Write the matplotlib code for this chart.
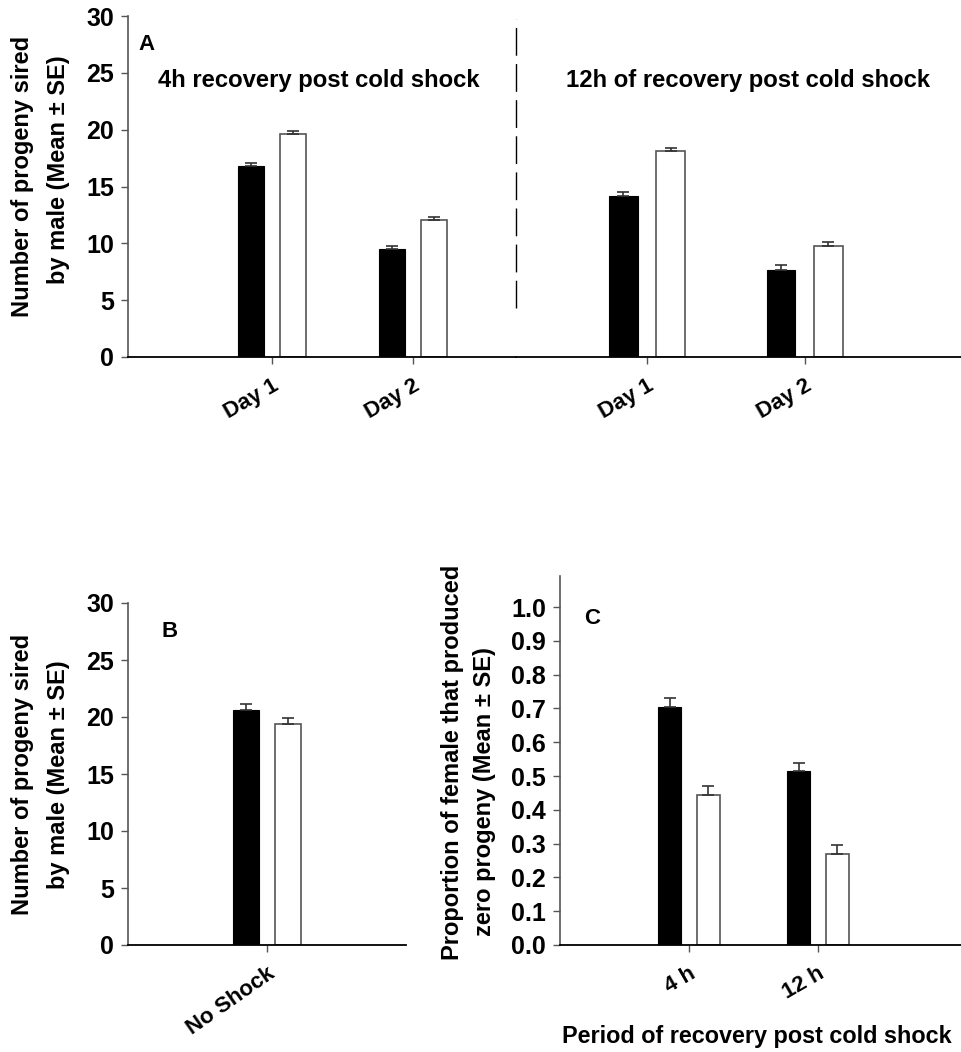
import matplotlib
matplotlib.use('Agg')
import matplotlib.pyplot as plt
import numpy as np

plt.rcParams['font.family'] = ['Liberation Sans', 'DejaVu Sans']
plt.rcParams['font.weight'] = 'bold'

# Panel A - 4h recovery (black = first group, white = second group)
a4_days = ['Day 1', 'Day 2']
a4_black = [16.8, 9.5]
a4_black_se = [0.3, 0.3]
a4_white = [19.6, 12.05]
a4_white_se = [0.25, 0.3]

# Panel A - 12h recovery
a12_days = ['Day 1', 'Day 2']
a12_black = [14.2, 7.65]
a12_black_se = [0.35, 0.45]
a12_white = [18.1, 9.75]
a12_white_se = [0.3, 0.35]

# Panel B - no shock
b_cats = ['No Shock']
b_black = [20.6]
b_black_se = [0.5]
b_white = [19.4]
b_white_se = [0.5]

# Panel C - proportion of females with zero progeny
c_cats = ['4 h', '12 h']
c_black = [0.704, 0.515]
c_black_se = [0.026, 0.024]
c_white = [0.444, 0.27]
c_white_se = [0.027, 0.026]

W, H = 961, 1052
fig = plt.figure(figsize=(W / 100, H / 100), dpi=100)


def px_axes(x0, x1, ytop, ybot):
    return fig.add_axes([x0 / W, 1 - ybot / H, (x1 - x0) / W, (ybot - ytop) / H])


def bars(ax, cats, black, black_se, white, white_se, width, rot):
    x = np.arange(1, len(cats) + 1)
    ekw = dict(ecolor='#333333', elinewidth=1.2, capsize=4, capthick=1.2)
    ax.bar(x - 0.15, black, width, color='black', edgecolor='black', linewidth=0.8,
           yerr=[np.zeros(len(cats)), black_se], error_kw=ekw, zorder=2)
    ax.bar(x + 0.15, white, width, color='white', edgecolor='#555555', linewidth=1.2,
           yerr=[np.zeros(len(cats)), white_se], error_kw=ekw, zorder=2)
    ax.set_xticks(x)
    ax.set_xticklabels(cats, rotation=rot, ha='right', rotation_mode='anchor',
                       fontsize=16, fontweight='bold')
    for s in ['top', 'right']:
        ax.spines[s].set_visible(False)
    ax.spines['bottom'].set_linewidth(1.3)
    ax.spines['left'].set_color('#555555')
    ax.spines['left'].set_linewidth(1.2)
    ax.tick_params(axis='x', length=5, width=1, color='#555555', pad=8)
    ax.tick_params(axis='y', length=5, width=1, color='#555555', labelsize=18, pad=5)
    for t in ax.get_yticklabels():
        t.set_fontweight('bold')


# Panel A, left part (4h)
axA1 = px_axes(128, 516, 16, 357)
bars(axA1, a4_days, a4_black, a4_black_se, a4_white, a4_white_se, 0.185, 30)
axA1.set_xlim(-0.02, 2.73)
axA1.set_ylim(0, 30)
axA1.set_yticks(range(0, 31, 5))
axA1.text(0.027, 0.9, 'A', transform=axA1.transAxes, fontsize=16, fontweight='bold')
axA1.text(0.077, 0.81, '4h recovery post cold shock', transform=axA1.transAxes,
          fontsize=17.2, fontweight='bold', va='center')

# Panel A, right part (12h)
axA2 = px_axes(516, 961, 16, 357)
bars(axA2, a12_days, a12_black, a12_black_se, a12_white, a12_white_se, 0.18, 30)
axA2.set_xlim(0.17, 2.99)
axA2.set_ylim(0, 30)
axA2.spines['left'].set_visible(False)
axA2.set_yticks([])
axA2.text(0.112, 0.81, '12h of recovery post cold shock', transform=axA2.transAxes,
          fontsize=17.2, fontweight='bold', va='center', ha='left')
# dashed separator
axA2.plot([0.17, 0.17], [4.3, 29.7], color='black', lw=1.0,
          linestyle=(0, (20, 6)), clip_on=False)

fig.text(23 / W, 1 - 176 / H, 'Number of progeny sired', rotation=90,
         ha='center', va='center', fontsize=17, fontweight='bold')
fig.text(58 / W, 1 - 170 / H, 'by male (Mean ± SE)', rotation=90,
         ha='center', va='center', fontsize=17, fontweight='bold')

# Panel B
axB = px_axes(128, 406, 603, 945)
bars(axB, b_cats, b_black, b_black_se, b_white, b_white_se, 0.187, 35)
axB.set_xlim(0, 2)
axB.set_ylim(0, 30)
axB.set_yticks(range(0, 31, 5))
axB.text(0.12, 0.9, 'B', transform=axB.transAxes, fontsize=16, fontweight='bold')
fig.text(23 / W, 1 - 774 / H, 'Number of progeny sired', rotation=90,
         ha='center', va='center', fontsize=17, fontweight='bold')
fig.text(58 / W, 1 - 775 / H, 'by male (Mean ± SE)', rotation=90,
         ha='center', va='center', fontsize=17, fontweight='bold')

# Panel C
axC = px_axes(560, 961, 576, 945)
bars(axC, c_cats, c_black, c_black_se, c_white, c_white_se, 0.18, 30)
axC.set_xlim(0.0, 3.11)
axC.set_ylim(0, 1.092)
axC.set_yticks(np.arange(0, 1.01, 0.1))
axC.set_yticklabels([f'{v:.1f}' for v in np.arange(0, 1.01, 0.1)], fontweight='bold')
axC.text(0.06, 0.87, 'C', transform=axC.transAxes, fontsize=16, fontweight='bold')
fig.text(452 / W, 1 - 762 / H, 'Proportion of female that produced', rotation=90,
         ha='center', va='center', fontsize=17, fontweight='bold')
fig.text(484 / W, 1 - 792 / H, 'zero progeny (Mean ± SE)', rotation=90,
         ha='center', va='center', fontsize=17, fontweight='bold')
fig.text(562 / W, 1 - 1037 / H, 'Period of recovery post cold shock', ha='left',
         va='center', fontsize=16.8, fontweight='bold')

fig.savefig('out.png', dpi=100)
